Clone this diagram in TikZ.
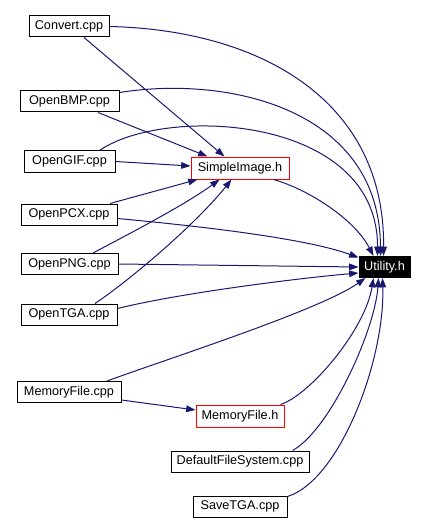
\documentclass[tikz,border=0pt]{standalone}
\usepackage{fontspec}
\setmainfont{Liberation Sans}
\usetikzlibrary{arrows.meta,calc}
\definecolor{edgeblue}{HTML}{191970}
\begin{document}
\begin{tikzpicture}[x=0.75pt,y=-0.75pt,
  fbox/.style={draw=black,line width=0.75pt,inner sep=0pt,minimum height=15.75pt,fill=white,font=\fontsize{9.5pt}{11pt}\selectfont},
  hbox/.style={fbox,draw=red,minimum height=16.5pt},
  ubox/.style={fbox,fill=black,text=white},
  dep/.style={draw=edgeblue,line width=0.75pt,-{Triangle[length=7pt,width=5pt]}}]
\useasboundingbox (0,0) rectangle (425,524);
\node[fbox,minimum width=60pt] (conv) at (69,26.5) {Convert.cpp};
\node[fbox,minimum width=74.25pt] (bmp) at (69.5,101.5) {OpenBMP.cpp};
\node[fbox,minimum width=68.25pt] (gif) at (69.5,161.5) {OpenGIF.cpp};
\node[fbox,minimum width=72pt] (pcx) at (69,214.5) {OpenPCX.cpp};
\node[fbox,minimum width=72.75pt] (png) at (69.5,264) {OpenPNG.cpp};
\node[fbox,minimum width=72pt] (tga) at (69,314.5) {OpenTGA.cpp};
\node[fbox,minimum width=78pt] (mfc) at (69,392) {MemoryFile.cpp};
\node[hbox,minimum width=73.5pt] (simg) at (240,168) {SimpleImage.h};
\node[ubox,minimum width=38.25pt] (util) at (384.5,267) {Utility.h};
\node[hbox,minimum width=66pt] (mfh) at (240,416) {MemoryFile.h};
\node[fbox,minimum width=103.5pt] (dfs) at (240,461.5) {DefaultFileSystem.cpp};
\node[fbox,minimum width=70.5pt] (stga) at (240,506.5) {SaveTGA.cpp};
% to Utility.h from above
\draw[dep] (conv.east) .. controls (260,30) and (385,100) .. ($(util.north west)+(25,0)$);
\draw[dep] ($(bmp.north east)+(0,2)$) .. controls (230,75) and (380,110) .. ($(util.north west)+(22,0)$);
\draw[dep] ($(gif.north)+(30,0)$) .. controls (165,105) and (378,115) .. ($(util.north west)+(19,0)$);
\draw[dep] ($(simg.south east)+(-16,0)$) .. controls (310,190) and (355,220) .. ($(util.north west)+(15,0)$);
% to SimpleImage.h
\draw[dep] ($(conv.south)+(15,0)$) -- ($(simg.north west)+(34,0)$);
\draw[dep] ($(bmp.south)+(28.5,0)$) -- ($(simg.north west)+(17,0)$);
\draw[dep] (gif.east) -- ($(simg.west)+(0,-2)$);
\draw[dep] ($(pcx.north)+(41,0)$) -- ($(simg.south west)+(7,0)$);
\draw[dep] ($(png.north)+(23.5,0)$) .. controls (125,236) and (185,205) .. ($(simg.south west)+(29,0)$);
\draw[dep] ($(tga.north)+(26,0)$) .. controls (130,280) and (195,225) .. ($(simg.south west)+(41,0)$);
% to Utility.h from the left
\draw[dep] ($(pcx.east)+(0,4)$) .. controls (220,228) and (310,240) .. ($(util.north west)+(0,1.5)$);
\draw[dep] (png.east) -- (util.west);
\draw[dep] ($(tga.east)+(0,-6)$) .. controls (180,293) and (300,278) .. ($(util.west)+(0,6)$);
\draw[dep] ($(mfc.north)+(38,0)$) .. controls (170,358) and (320,310) .. ($(util.south west)+(7,0)$);
% MemoryFile
\draw[dep] ($(mfc.south east)+(0,-3)$) -- ($(mfh.west)+(0,-6)$);
% to Utility.h from below
\draw[dep] ($(mfh.north east)+(-4,0)$) .. controls (310,395) and (365,330) .. ($(util.south west)+(15,0)$);
\draw[dep] ($(dfs.north east)+(-17,0)$) .. controls (330,430) and (375,330) .. ($(util.south west)+(20,0)$);
\draw[dep] ($(stga.north east)+(0,1)$) .. controls (340,480) and (385,360) .. ($(util.south west)+(24,0)$);
\end{tikzpicture}
\end{document}
